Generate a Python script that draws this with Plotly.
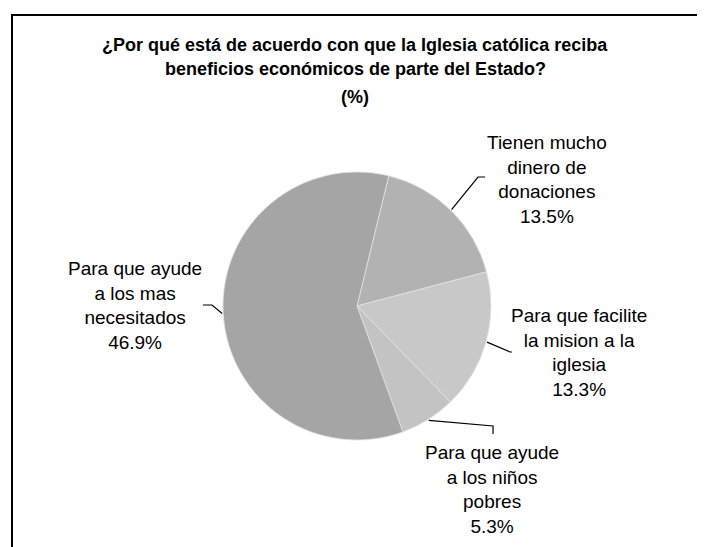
import math
import plotly.graph_objects as go

# ---- data ----
categories = [
    "Tienen mucho<br>dinero de<br>donaciones",
    "Para que facilite<br>la mision a la<br>iglesia",
    "Para que ayude<br>a los niños<br>pobres",
    "Para que ayude<br>a los mas<br>necesitados",
]
values = [13.5, 13.3, 5.3, 46.9]
slice_colors = ["#b2b2b2", "#c8c8c8", "#c3c3c3", "#a5a5a5"]

title_lines = [
    "¿Por qué está de acuerdo con que la Iglesia católica reciba",
    "beneficios económicos de parte del Estado?",
    "(%)",
]

# ---- layout constants (screen pixels) ----
W, H = 705, 547
OFF = 8  # page body margin
CX, CY, R = 357, 306, 134
ROTATION = 13.7

label_pos = [(547, 179), (579, 352), (492, 489), (135, 306)]
leader_elbows = [
    [(478, 177), (485, 177)],
    [(510, 352), (512, 352)],
    [(493, 426), (493, 434)],
    [(212, 305), (203, 305)],
]
title_y = [45, 69, 97]


def px(x):
    return (x - OFF) / W


def py(y):
    return 1 - (y - OFF) / H


fig = go.Figure()
fig.add_trace(
    go.Pie(
        labels=[c.replace("<br>", " ") for c in categories],
        values=values,
        sort=False,
        direction="clockwise",
        rotation=ROTATION,
        marker=dict(colors=slice_colors, line=dict(color="#e2e2e2", width=0.8)),
        textinfo="none",
        hoverinfo="label+percent",
        showlegend=False,
        domain=dict(x=[px(CX - R), px(CX + R)], y=[py(CY + R), py(CY - R)]),
    )
)

total = sum(values)
shapes = []
annotations = []
cum = 0.0
for i, (cat, v) in enumerate(zip(categories, values)):
    mid = ROTATION + 360 * (cum + v / 2) / total
    cum += v
    a = math.radians(mid)
    sx = CX + (R + 1) * math.sin(a)
    sy = CY - (R + 1) * math.cos(a)
    pts = [(sx, sy)] + leader_elbows[i]
    path = "M " + " L ".join(f"{px(x):.5f},{py(y):.5f}" for x, y in pts)
    shapes.append(dict(type="path", xref="paper", yref="paper", path=path,
                       line=dict(color="#000000", width=1.2)))
    lx, ly = label_pos[i]
    annotations.append(dict(
        text=f"{cat}<br>{v}%", x=px(lx), y=py(ly), xref="paper", yref="paper",
        xanchor="center", yanchor="middle", showarrow=False, align="center",
        font=dict(family="Liberation Sans, Arial, sans-serif", size=19, color="#000000"),
    ))

for t, y in zip(title_lines, title_y):
    annotations.append(dict(
        text=f"<b>{t}</b>", x=px(355), y=py(y), xref="paper", yref="paper",
        xanchor="center", yanchor="middle", showarrow=False,
        font=dict(family="Liberation Sans, Arial, sans-serif", size=18, color="#000000"),
    ))

# chart border (cropped at right and bottom)
shapes.append(dict(type="rect", xref="paper", yref="paper",
                   x0=px(12), x1=px(W + 40), y0=py(H + 40), y1=py(15),
                   line=dict(color="#000000", width=2)))

fig.update_layout(
    width=W, height=H,
    margin=dict(l=0, r=0, t=0, b=0),
    paper_bgcolor="white", plot_bgcolor="white",
    shapes=shapes, annotations=annotations,
)

fig.write_html("out.html")
